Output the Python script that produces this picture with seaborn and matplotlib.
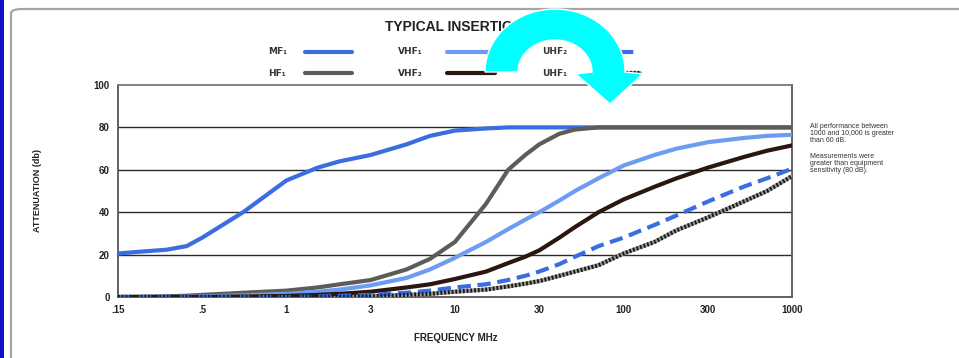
import numpy as np
import pandas as pd
import matplotlib
matplotlib.use("Agg")
import matplotlib.pyplot as plt
import seaborn as sns
from matplotlib.lines import Line2D
from matplotlib.patches import Polygon, FancyBboxPatch, Rectangle
from matplotlib.ticker import FixedLocator, FixedFormatter, NullLocator

# ---------------- data ----------------
tick_freqs = [0.15, 0.5, 1, 3, 10, 30, 100, 300, 1000]
tick_labels = [".15", ".5", "1", "3", "10", "30", "100", "300", "1000"]

freq = [0.15, 0.2, 0.3, 0.4, 0.5, 0.7, 1, 1.5, 2, 3, 5, 7, 10, 15, 20, 25, 30,
        40, 50, 70, 100, 150, 200, 300, 500, 700, 1000]

mf1  = [20.5, 21.3, 22.3, 24, 28, 40, 55, 61, 64, 67, 72, 76, 78.5, 79.5, 80, 80, 80,
        80, 80, 80, 80, 80, 80, 80, 80, 80, 80]
hf1  = [0, 0.1, 0.3, 0.6, 1, 2, 3, 4.5, 6, 8, 13, 18, 26, 44, 60, 67, 72,
        77, 79, 80, 80, 80, 80, 80, 80, 80, 80]
vhf1 = [0, 0, 0, 0.1, 0.3, 0.8, 1.5, 2.5, 3.5, 5.5, 9, 13, 18.5, 26, 32, 36.5, 40,
        45.5, 50, 56, 62, 67, 70, 73, 75, 76, 76.5]
vhf2 = [0, 0, 0, 0, 0, 0.2, 0.5, 1, 1.5, 2.5, 4.5, 6, 8.5, 12, 16, 19, 22,
        28, 33, 40, 46, 52, 56, 61, 66, 69, 71.5]
uhf2 = [0, 0, 0, 0, 0, 0, 0, 0.2, 0.5, 1, 2, 3, 4.5, 6, 8, 10, 12,
        15.5, 19, 24, 28, 34, 38.5, 45, 52, 56, 60.5]
uhf1 = [0, 0, 0, 0, 0, 0, 0, 0, 0, 0.3, 1, 1.5, 2.5, 3.5, 5, 6.3, 7.5,
        10, 12, 15, 20.5, 26, 31.5, 37.5, 45, 50, 57]

series_names = ["MF₁", "HF₁", "VHF₁", "VHF₂", "UHF₂", "UHF₁"]
series_vals = [mf1, hf1, vhf1, vhf2, uhf2, uhf1]

note_text = ("All performance between\n1000 and 10,000 is greater\nthan 60 dB.")
note_text2 = ("Measurements were\ngreater than equipment\nsensitivity (80 dB).")

# ---------------- styles ----------------
styles = {
    "MF₁":  dict(color="#3a6ee0", lw=3.0, ls="-"),
    "HF₁":  dict(color="#5e5c56", lw=3.0, ls="-"),
    "VHF₁": dict(color="#6d9cf2", lw=3.0, ls="-"),
    "VHF₂": dict(color="#2b1610", lw=3.0, ls="-"),
    "UHF₂": dict(color="#3a6ee0", lw=3.0, ls=(0, (3.2, 1.6))),
    "UHF₁": dict(color="#1a1a1a", lw=3.0, ls=(0, (0.45, 0.45))),
}

sns.set_theme(style="white")
plt.rcParams["font.family"] = ["Liberation Sans", "DejaVu Sans"]

W, H = 959, 358
fig = plt.figure(figsize=(W / 100, H / 100), dpi=100)
fig.patch.set_facecolor("white")

def fx(px):
    return px / W

def fy(py):
    return 1 - py / H

left, right, top, bottom = 118, 792, 85, 297
ax = fig.add_axes([fx(left), fy(bottom), fx(right) - fx(left), fy(top) - fy(bottom)])

log_ticks = np.log10(tick_freqs)
idx = np.arange(len(tick_freqs), dtype=float)

def fwd(x):
    x = np.asarray(x, dtype=float)
    return np.interp(np.log10(np.clip(x, 1e-9, None)), log_ticks, idx)

def inv(p):
    p = np.asarray(p, dtype=float)
    return 10 ** np.interp(p, idx, log_ticks)

ax.set_xscale("function", functions=(fwd, inv))

# gridlines
for yv in [20, 40, 60, 80]:
    ax.axhline(yv, color="#2a2a2a", lw=1.0, zorder=1)

for name, vals in zip(series_names, series_vals):
    st = styles[name]
    if name == "UHF₁":
        sns.lineplot(x=freq, y=vals, ax=ax, color="#9a9a9a", lw=st["lw"],
                     legend=False, zorder=3, estimator=None)
    sns.lineplot(x=freq, y=vals, ax=ax, color=st["color"], lw=st["lw"],
                 linestyle=st["ls"], legend=False, zorder=4, estimator=None)

ax.set_xlim(0.15, 1000)
ax.set_ylim(0, 100)
ax.xaxis.set_major_locator(FixedLocator(tick_freqs))
ax.xaxis.set_major_formatter(FixedFormatter(tick_labels))
ax.xaxis.set_minor_locator(NullLocator())
ax.set_yticks([0, 20, 40, 60, 80, 100])
ax.set_yticklabels(["0", "20", "40", "60", "80", "100"])
ax.tick_params(axis="both", which="major", direction="out", length=4, width=1,
               color="#444444", labelsize=7, labelcolor="#222222", pad=2)
for lab in ax.get_xticklabels() + ax.get_yticklabels():
    lab.set_fontweight("bold")
ax.set_xlabel("")
ax.set_ylabel("")
for s in ["left", "bottom", "right"]:
    ax.spines[s].set_color("#555555")
    ax.spines[s].set_linewidth(1.3)
ax.spines["top"].set_color("#777777")
ax.spines["top"].set_linewidth(1.3)
ax.set_facecolor("white")

# axis labels
fig.text(fx(38), fy(190), "ATTENUATION (db)", rotation=90, ha="center", va="center",
         fontsize=6.5, fontweight="bold", color="#222222")
fig.text(fx(456), fy(338), "FREQUENCY MHz", ha="center", va="center",
         fontsize=7, fontweight="bold", color="#222222")

# title
fig.text(fx(385), fy(27), "TYPICAL INSERTION LOSS", ha="left", va="center",
         fontsize=10, fontweight="bold", color="#222222")

# notes
fig.text(fx(810), fy(123), note_text, ha="left", va="top", fontsize=5,
         color="#333333", linespacing=1.05)
fig.text(fx(810), fy(153), note_text2, ha="left", va="top", fontsize=5,
         color="#333333", linespacing=1.05)

# legend
leg_pos = {
    "MF₁": (268, 305, 352, 52), "HF₁": (268, 305, 352, 73),
    "VHF₁": (398, 447, 495, 52), "VHF₂": (398, 447, 495, 73),
    "UHF₂": (542, 600, 640, 52), "UHF₁": (542, 600, 640, 73),
}
for name in series_names:
    tx, x0, x1, yy = leg_pos[name]
    st = styles[name]
    fig.text(fx(tx), fy(yy), name, ha="left", va="center", fontsize=6.5,
             fontweight="bold", color="#333333", family=["DejaVu Sans"])
    if name == "UHF₁":
        fig.add_artist(Line2D([fx(x0), fx(x1)], [fy(yy), fy(yy)], color="#9a9a9a",
                              lw=st["lw"], zorder=4))
    fig.add_artist(Line2D([fx(x0), fx(x1)], [fy(yy), fy(yy)], color=st["color"],
                          lw=st["lw"], linestyle=st["ls"], zorder=4))

# frame decoration
frame = FancyBboxPatch((fx(11), fy(400)), fx(1100) - fx(11), fy(9) - fy(400),
                       boxstyle="round,pad=0,rounding_size=0.012",
                       transform=fig.transFigure, facecolor="none",
                       edgecolor="#a8a4a6", lw=1.6, zorder=2)
fig.add_artist(frame)
fig.add_artist(Rectangle((0, 0), fx(3.5), 1, transform=fig.transFigure,
                         facecolor="#1010c8", edgecolor="none", zorder=2))

# cyan curved arrow overlay
cx, cy = 555, 72
ro_x, ro_y = 70, 63
ri_x, ri_y = 37, 32
t = np.linspace(np.pi, 0, 60)
outer = [(cx + ro_x * np.cos(a), cy - ro_y * np.sin(a)) for a in t]
inner = [(cx + ri_x * np.cos(a), cy - ri_y * np.sin(a)) for a in t[::-1]]
pts = outer + [(643, 74), (610, 104), (576, 74)] + inner
pts = [(fx(px), fy(py)) for px, py in pts]
fig.add_artist(Polygon(pts, closed=True, transform=fig.transFigure,
                       facecolor="#00ffff", edgecolor="white", lw=1.0, zorder=10))

fig.savefig("out.png", dpi=100)
